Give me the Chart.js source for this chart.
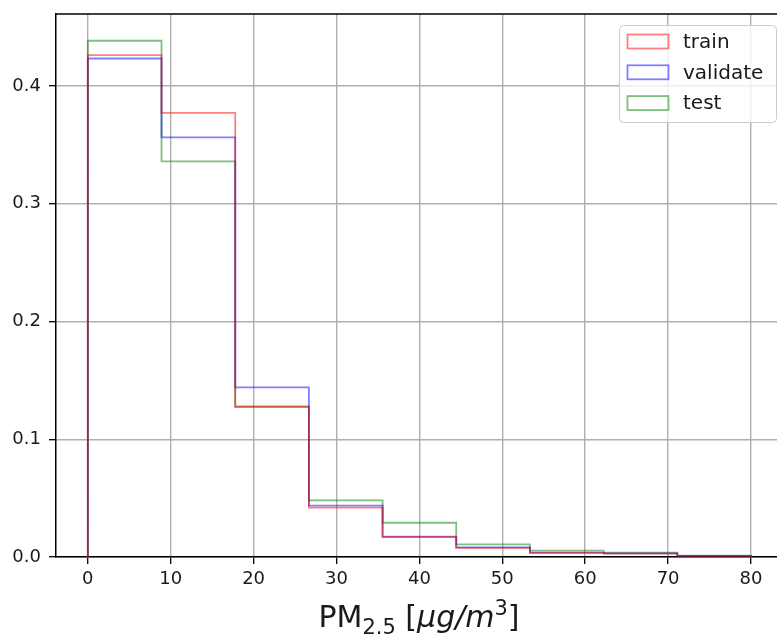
<!DOCTYPE html>
<html>
<head>
<meta charset="utf-8">
<script src="https://cdn.jsdelivr.net/npm/chart.js@4/dist/chart.umd.min.js"></script>
<style>
  html, body { margin: 0; padding: 0; background: #fff; overflow: hidden; }
  canvas { display: block; }
</style>
</head>
<body>
<canvas id="hist" width="777" height="637"></canvas>
<script>
/* PM2.5 分布ヒストグラム (train / validate / test) */

// bin edges (0..80, 9 bins)
const binEdges = [0, 8.89, 17.78, 26.67, 35.56, 44.44, 53.33, 62.22, 71.11, 80];
const seriesNames = ['train', 'validate', 'test'];
const trainVals = [0.4262, 0.3773, 0.1274, 0.0419, 0.0170, 0.0078, 0.0035, 0.0028, 0.0010];
const validateVals = [0.4234, 0.3564, 0.1441, 0.0436, 0.0173, 0.0082, 0.0037, 0.0030, 0.0010];
const testVals = [0.4385, 0.3360, 0.1280, 0.0481, 0.0291, 0.0108, 0.0054, 0.0037, 0.0012];
const xTicks = [0, 10, 20, 30, 40, 50, 60, 70, 80];
const yTicks = [0.0, 0.1, 0.2, 0.3, 0.4];

const COLORS = ['rgba(255,0,0,0.5)', 'rgba(0,0,255,0.5)', 'rgba(0,128,0,0.5)'];
const FONT = "'DejaVu Sans', sans-serif";
const TXT = '#1a1a1a';

// step outline: (x0,0) -> (x0,v1) -> ... -> (x9,0)
function stepPoints(vals) {
  const pts = [{ x: binEdges[0], y: 0 }];
  vals.forEach((v, i) => pts.push({ x: binEdges[i], y: v }));
  pts.push({ x: binEdges[binEdges.length - 1], y: 0 });
  return pts;
}

const datasets = [trainVals, validateVals, testVals].map((vals, i) => ({
  label: seriesNames[i],
  data: stepPoints(vals),
  borderColor: COLORS[i],
  borderWidth: 1.8,
  stepped: 'before',   // chart.js: 横→縦 の順
  pointRadius: 0,
  fill: false,
}));

/* ===== 枠・凡例・軸タイトル ===== */
const extras = {
  id: 'extras',
  afterDraw(chart) {
    const ctx = chart.ctx;
    const a = chart.chartArea;
    ctx.save();
    // top frame line
    ctx.strokeStyle = '#000';
    ctx.lineWidth = 1.5;
    ctx.beginPath();
    ctx.moveTo(a.left, a.top);
    ctx.lineTo(a.right, a.top);
    ctx.stroke();

    // legend
    const lx = 619.5, ly = 25.5, lw = 157, lh = 97;
    ctx.fillStyle = 'rgba(255,255,255,0.8)';
    ctx.strokeStyle = '#cccccc';
    ctx.lineWidth = 1;
    ctx.beginPath();
    ctx.roundRect(lx, ly, lw, lh, 4);
    ctx.fill();
    ctx.stroke();
    ctx.font = '20px ' + FONT;
    ctx.textBaseline = 'middle';
    chart.data.datasets.forEach((ds, i) => {
      const cy = 41.5 + i * 30.8;
      ctx.strokeStyle = ds.borderColor;
      ctx.lineWidth = 1.8;
      ctx.strokeRect(627.5, cy - 7, 41, 14);
      ctx.fillStyle = TXT;
      ctx.fillText(ds.label, 683, cy + 1);
    });

    // x title: PM_{2.5} [μg/m^3]
    const big = 30, small = 21;
    const parts = [
      { t: 'PM', f: big + 'px ' + FONT, dy: 0 },
      { t: '2.5', f: small + 'px ' + FONT, dy: 7 },
      { t: ' [', f: big + 'px ' + FONT, dy: 0 },
      { t: 'μg/m', f: 'italic ' + big + 'px ' + FONT, dy: 0 },
      { t: '3', f: small + 'px ' + FONT, dy: -12 },
      { t: ']', f: big + 'px ' + FONT, dy: 0 },
    ];
    let total = 0;
    parts.forEach(p => { ctx.font = p.f; p.w = ctx.measureText(p.t).width; total += p.w; });
    let x = 419 - total / 2;
    const base = 627;
    ctx.textBaseline = 'alphabetic';
    ctx.fillStyle = TXT;
    parts.forEach(p => {
      ctx.font = p.f;
      ctx.fillText(p.t, x, base + p.dy);
      x += p.w;
    });
    ctx.restore();
  }
};

new Chart(document.getElementById('hist'), {
  type: 'line',
  data: { datasets },
  plugins: [extras],
  options: {
    responsive: false,
    animation: false,
    devicePixelRatio: 1,
    layout: { padding: { top: 14, left: 0, right: 0, bottom: 0 } },
    plugins: { legend: { display: false }, tooltip: { enabled: false } },
    scales: {
      x: {
        type: 'linear',
        min: -3.84,
        max: 83.14,
        afterBuildTicks: s => { s.ticks = xTicks.map(v => ({ value: v })); },
        afterFit: s => { s.height = 80; s.paddingLeft = 0; s.paddingRight = 0; },
        grid: { color: '#b0b0b0', lineWidth: 1.4, tickColor: '#000', tickLength: 7, tickWidth: 1.3 },
        border: { color: '#000', width: 1.5 },
        ticks: { color: TXT, font: { family: FONT, size: 18 }, padding: 5, maxRotation: 0, autoSkip: false },
      },
      y: {
        type: 'linear',
        min: 0,
        max: 0.4612,
        afterBuildTicks: s => { s.ticks = yTicks.map(v => ({ value: v })); },
        afterFit: s => { s.width = 56; s.paddingTop = 0; s.paddingBottom = 0; },
        grid: { color: '#b0b0b0', lineWidth: 1.4, tickColor: '#000', tickLength: 7, tickWidth: 1.3 },
        border: { color: '#000', width: 1.5 },
        ticks: { color: TXT, font: { family: FONT, size: 18 }, padding: 8, callback: v => v.toFixed(1) },
      },
    },
  },
});
</script>
</body>
</html>
